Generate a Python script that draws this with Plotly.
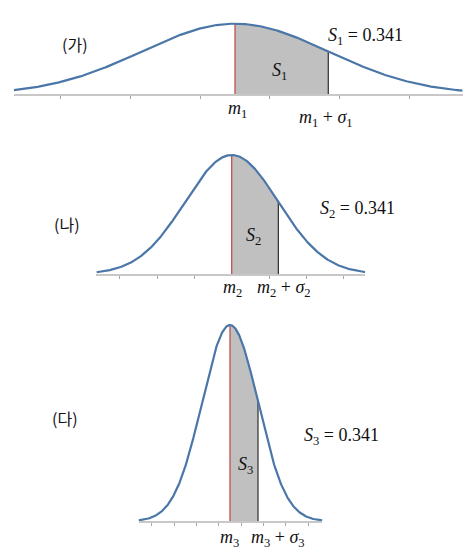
import numpy as np
import plotly.graph_objects as go

# ---------------- data ----------------
panel_names = ["(가)", "(나)", "(다)"]
means = [0.0, 0.0, 0.0]
sigmas = [10.0, 5.0, 3.0]
areas = ["0.341", "0.341", "0.341"]
tick_offsets = [
    [-18.75, -11.25, -3.75, 3.75, 11.25, 18.75],
    [-12, -8, -4, 4, 8, 12],
    [-8.4, -6.0, -3.6, -1.2, 1.2, 3.6, 6.0, 8.4],
]
x_extent = [(-23.7, 24.4), (-14.5, 14.3), (-9.8, 9.9)]

# ---------------- layout helpers ----------------
W, H = 474, 554
PXU = 9.33  # pixels per x unit
mean_px = [235, 231.7, 230]
base_px = [94.3, 274, 521.3]
peak_px = [23.7, 155, 325]
top_px = [8, 140, 312]

def px(x):
    return x / W

def py(y):
    return 1 - y / H

def pdf(x, m, s):
    return np.exp(-0.5 * ((x - m) / s) ** 2) / (s * np.sqrt(2 * np.pi))

CURVE = "#4a76a8"
MATHFONT = dict(family="Liberation Serif, DejaVu Serif, serif", size=18, color="#111111")
KFONT = dict(family="Noto Sans CJK KR, sans-serif", size=16, color="#111111")

fig = go.Figure()
annotations = []
layout_axes = {}

for i in range(3):
    m, s = means[i], sigmas[i]
    lo, hi = x_extent[i]
    xa = "x" if i == 0 else f"x{i+1}"
    ya = "y" if i == 0 else f"y{i+1}"
    n = i + 1

    # shaded area m .. m+s
    xs = np.linspace(m, m + s, 120)
    fig.add_trace(go.Scatter(x=xs, y=pdf(xs, m, s), mode="lines", line=dict(width=0),
                             fill="tozeroy", fillcolor="#c0c0c0", xaxis=xa, yaxis=ya,
                             showlegend=False, hoverinfo="skip"))
    # mean line
    fig.add_trace(go.Scatter(x=[m, m], y=[0, pdf(m, m, s)], mode="lines",
                             line=dict(color="#c0504d", width=1.3), xaxis=xa, yaxis=ya,
                             showlegend=False, hoverinfo="skip"))
    # sigma line
    fig.add_trace(go.Scatter(x=[m + s, m + s], y=[0, pdf(m + s, m, s)], mode="lines",
                             line=dict(color="#3a3a3a", width=1.3), xaxis=xa, yaxis=ya,
                             showlegend=False, hoverinfo="skip"))
    # curve
    xc = np.linspace(m + lo, m + hi, 400)
    fig.add_trace(go.Scatter(x=xc, y=pdf(xc, m, s), mode="lines",
                             line=dict(color=CURVE, width=2.2), xaxis=xa, yaxis=ya,
                             cliponaxis=False, showlegend=False, hoverinfo="skip"))

    # axes
    x0 = mean_px[i] + lo * PXU
    x1 = mean_px[i] + hi * PXU
    peak = pdf(m, m, s)
    ytop = peak * (base_px[i] - top_px[i]) / (base_px[i] - peak_px[i])
    layout_axes["xaxis" if i == 0 else f"xaxis{n}"] = dict(
        domain=[px(x0), px(x1)], range=[m + lo, m + hi], anchor=ya,
        showgrid=False, zeroline=False, showline=True, linecolor="#c8c8c8", linewidth=1.5,
        ticks="outside", ticklen=3, tickwidth=1, tickcolor="#a8a8a8",
        tickvals=[m + t for t in tick_offsets[i]], showticklabels=False, fixedrange=True)
    layout_axes["yaxis" if i == 0 else f"yaxis{n}"] = dict(
        domain=[py(base_px[i]), py(top_px[i])], range=[0, ytop], anchor=xa,
        visible=False, showgrid=False, zeroline=False, fixedrange=True)

# ---------------- text ----------------
def ann(text, x, y, font, xanchor="center"):
    annotations.append(dict(text=text, x=px(x), y=py(y), xref="paper", yref="paper",
                            xanchor=xanchor, yanchor="middle", showarrow=False, font=font))

korean_pos = [(75, 44), (67, 224), (65, 418)]
s_eq_pos = [(365, 36), (357, 209), (341, 436)]
s_in_pos = [(279, 72), (253, 237), (245, 465)]
m_lab_pos = [(237, 109), (232, 288), (229, 538)]
ms_lab_pos = [(326, 118), (284, 288), (278, 538)]

for i in range(3):
    n = i + 1
    ann(panel_names[i], *korean_pos[i], KFONT)
    ann(f"<i>S</i><sub>{n}</sub> = {areas[i]}", *s_eq_pos[i], MATHFONT)
    ann(f"<i>S</i><sub>{n}</sub>", *s_in_pos[i], MATHFONT)
    ann(f"<i>m</i><sub>{n}</sub>", *m_lab_pos[i], MATHFONT)
    ann(f"<i>m</i><sub>{n}</sub> + <i>σ</i><sub>{n}</sub>", *ms_lab_pos[i], MATHFONT)

fig.update_layout(width=W, height=H, margin=dict(l=0, r=0, t=0, b=0),
                  paper_bgcolor="white", plot_bgcolor="rgba(0,0,0,0)",
                  annotations=annotations, **layout_axes)

fig.write_html("out.html", config={"displayModeBar": False, "responsive": False},
               post_script="document.body.style.margin='0';document.body.style.overflow='hidden';")
